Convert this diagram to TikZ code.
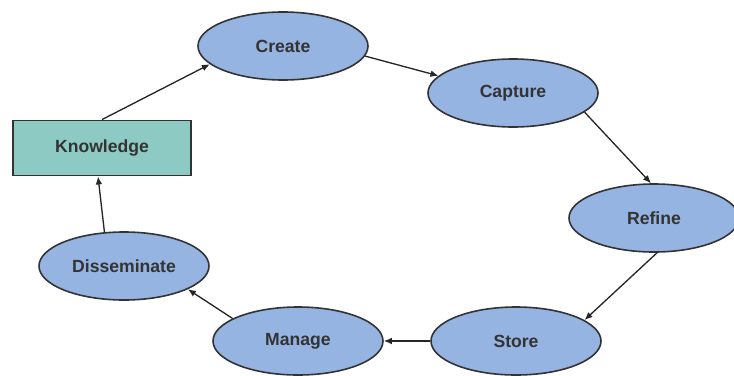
\documentclass[tikz,border=0pt]{standalone}
\usepackage{xcolor}
\usepackage{fontspec}
\setmainfont{Liberation Sans}
\usepackage{tikz}
\usetikzlibrary{shapes,arrows,positioning,calc,arrows.meta}
\definecolor{stageblue}{HTML}{95B4E2}
\definecolor{knowteal}{HTML}{8ECAC4}
\definecolor{edgegray}{HTML}{333333}

\begin{document}
\begin{tikzpicture}[x=0.75pt,y=-0.75pt,
    stage/.style={ellipse, draw=edgegray, line width=1.2pt, fill=stageblue,
        minimum width=127.5pt, minimum height=51pt, inner sep=0pt,
        font=\bfseries\fontsize{13.2}{15}\selectfont, text=edgegray},
    source/.style={rectangle, draw=edgegray, line width=1.4pt, fill=knowteal,
        minimum width=133.5pt, minimum height=41.25pt, inner sep=0pt,
        font=\bfseries\fontsize{13.2}{15}\selectfont, text=edgegray},
    flow/.style={-{Latex[length=6pt,width=5pt]}, line width=1pt, draw=black!85}]
    \useasboundingbox (0,0) rectangle (734,375);

    \node[source] (know) at (102,148) {Knowledge};
    \node[stage] (create) at (283,46) {Create};
    \node[stage] (capture) at (513,93) {Capture};
    \node[stage] (refine) at (654,218) {Refine};
    \node[stage] (store) at (516,341) {Store};
    \node[stage] (manage) at (298,341) {Manage};
    \node[stage] (dissem) at (124,266) {Disseminate};

    \draw[flow] (know.north) -- (create.194);
    \draw[flow] (create.-7) -- (capture.167);
    \draw[flow] (capture.-15) -- (refine.95);
    \draw[flow] (refine.275) -- (store.17);
    \draw[flow] (store.west) -- (manage.east);
    \draw[flow] (manage.161) -- (dissem.-20);
    \draw[flow] (dissem.120) -- (know.262);
\end{tikzpicture}
\end{document}
